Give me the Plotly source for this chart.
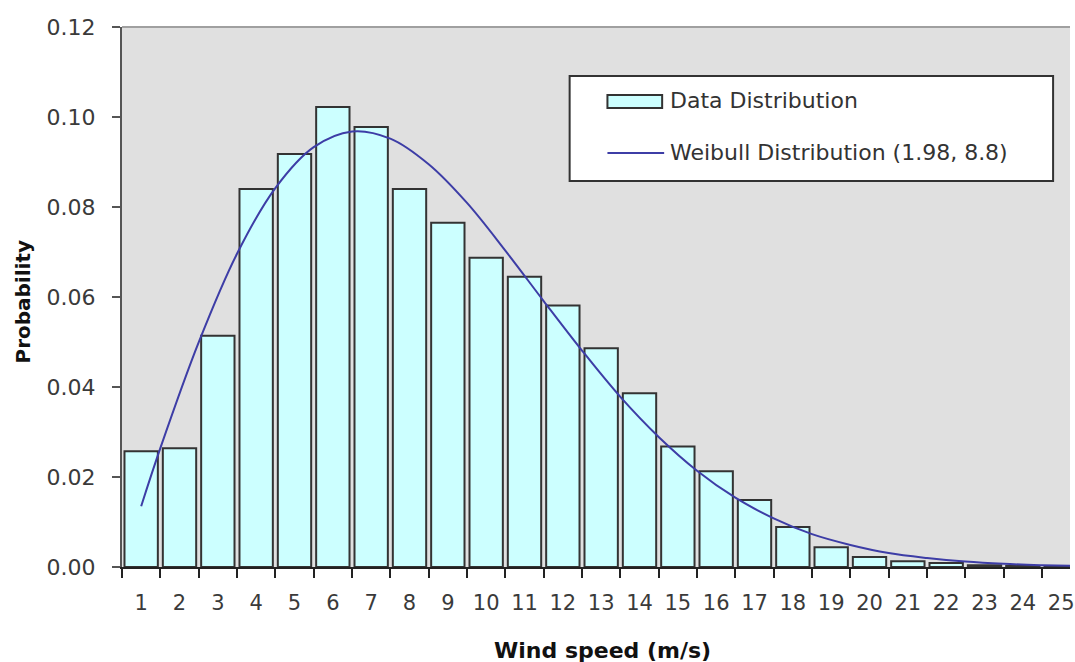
import plotly.graph_objects as go

# ---- data ----
speed_bins = [str(i) for i in range(1, 26)]
data_prob = [0.0257, 0.0264, 0.0514, 0.0840, 0.0918, 0.1022, 0.0978, 0.0840, 0.0765,
             0.0687, 0.0645, 0.0581, 0.0486, 0.0386, 0.0268, 0.0213, 0.0149, 0.0089,
             0.0044, 0.0022, 0.0013, 0.0009, 0.0004, 0.0002, 0.0001]

# Weibull curve samples (wind speed in m/s, measured from left edge of bin "1")
curve_speed = [0.5, 1, 2, 3, 4, 5, 6, 7, 8, 9, 10, 11, 12, 13, 14, 15, 16, 17, 18,
               19, 20, 21, 22, 23, 24, 25]
curve_prob = [0.0135, 0.0264, 0.0499, 0.0696, 0.0842, 0.0933, 0.0968, 0.0952, 0.0895,
              0.0809, 0.0703, 0.0591, 0.0481, 0.0378, 0.0289, 0.0214, 0.0154, 0.0108,
              0.0073, 0.0049, 0.0031, 0.0020, 0.0012, 0.0007, 0.0004, 0.0002]

legend_labels = ["Data Distribution", "Weibull Distribution (1.98, 8.8)"]

FONT = "DejaVu Sans"
W, H = 1075, 662
ML, MR, MT, MB = 122, 0, 27, 95
PW, PH = W - ML - MR, H - MT - MB


def px(x):
    return (x - ML) / PW


def py(y):
    return (H - MB - y) / PH


fig = go.Figure()
fig.add_trace(go.Bar(
    x=speed_bins, y=data_prob, name=legend_labels[0],
    marker=dict(color="#ccffff", line=dict(color="#333333", width=2)),
    showlegend=False, xaxis="x", yaxis="y"))
fig.add_trace(go.Scatter(
    x=curve_speed, y=curve_prob, name=legend_labels[1], mode="lines",
    line=dict(color="#3d3da6", width=2, shape="spline", smoothing=1.0),
    showlegend=False, xaxis="x2", yaxis="y"))

fig.update_layout(
    width=W, height=H,
    margin=dict(l=ML, r=MR, t=MT, b=MB, pad=0),
    paper_bgcolor="white", plot_bgcolor="#e0e0e0",
    bargap=0.13,
    font=dict(family=FONT, color="#333333"),
    xaxis=dict(type="category", range=[-0.5, 24.23], tickson="boundaries",
               ticks="outside", ticklen=9, tickwidth=2, tickcolor="#222222",
               showline=True, linecolor="#222222", linewidth=2,
               showgrid=False, zeroline=False,
               tickfont=dict(family=FONT, size=21, color="#3a3a3a"),
               ticklabelstandoff=16),
    xaxis2=dict(overlaying="x", range=[0, 24.73], visible=False, anchor="y"),
    yaxis=dict(range=[0, 0.12], dtick=0.02, tickformat=".2f",
               ticks="outside", ticklen=8, tickwidth=2, tickcolor="#555555",
               showline=True, linecolor="#555555", linewidth=2,
               showgrid=False, zeroline=False,
               tickfont=dict(family=FONT, size=22, color="#3a3a3a"),
               ticklabelstandoff=12),
    yaxis2=dict(overlaying="y", range=[0, 0.12], dtick=0.02, ticks="inside",
                ticklen=10, tickwidth=2, tickcolor="#555555",
                showticklabels=False, showline=False, showgrid=False,
                zeroline=False, anchor="x"),
)

shapes = [
    # top border of plot area
    dict(type="line", xref="paper", yref="paper", x0=0, x1=1, y0=1, y1=1,
         line=dict(color="#a0a0a0", width=2)),
    # legend box
    dict(type="rect", xref="paper", yref="paper",
         x0=px(572), x1=px(1058), y0=py(181), y1=py(76),
         fillcolor="white", line=dict(color="#333333", width=2)),
    # legend bar symbol
    dict(type="rect", xref="paper", yref="paper",
         x0=px(610), x1=px(665), y0=py(108), y1=py(95),
         fillcolor="#ccffff", line=dict(color="#333333", width=2)),
    # legend line symbol
    dict(type="line", xref="paper", yref="paper",
         x0=px(610), x1=px(667), y0=py(153), y1=py(153),
         line=dict(color="#3d3da6", width=2)),
]

annotations = [
    dict(text=legend_labels[0], xref="paper", yref="paper", x=px(671), y=py(100),
         xanchor="left", yanchor="middle", showarrow=False,
         font=dict(family=FONT, size=22, color="#333333")),
    dict(text=legend_labels[1], xref="paper", yref="paper", x=px(671), y=py(152),
         xanchor="left", yanchor="middle", showarrow=False,
         font=dict(family=FONT, size=22, color="#333333")),
    dict(text="<b>Probability</b>", xref="paper", yref="paper", x=px(22), y=py(302),
         xanchor="center", yanchor="middle", textangle=-90, showarrow=False,
         font=dict(family=FONT, size=20, color="#111111")),
    dict(text="<b>Wind speed (m/s)</b>", xref="paper", yref="paper", x=px(605), y=py(650),
         xanchor="center", yanchor="middle", showarrow=False,
         font=dict(family=FONT, size=22, color="#111111")),
]

fig.update_layout(shapes=shapes, annotations=annotations)
fig.write_html("out.html")
